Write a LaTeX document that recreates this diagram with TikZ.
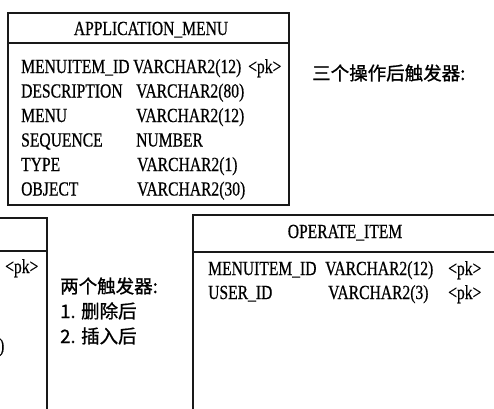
\documentclass[tikz,border=0pt]{standalone}
\usepackage{fontspec}
\setmainfont{Liberation Serif}[FakeStretch=0.78,FakeBold=0.6]
\newfontfamily\cjk{Noto Sans CJK SC}[FakeBold=1]
\begin{document}
\begin{tikzpicture}[x=1pt,y=-1pt,
  tbl/.style={line width=1.8pt,draw=black!90},
  txt/.style={anchor=base west,inner sep=0pt,font=\fontsize{20}{24}\selectfont},
  hdr/.style={anchor=base,inner sep=0pt,font=\fontsize{20}{24}\selectfont},
  cn/.style={anchor=base west,inner sep=0pt,font=\cjk\fontsize{18.5}{22}\selectfont}]
\useasboundingbox (0,0) rectangle (494,408);
\clip (0,0) rectangle (494,408);
% top table
\draw[tbl] (8,13) rectangle (289,205);
\draw[tbl] (8,43) -- (289,43);
\node[hdr] (h1) at (151,35) {APPLICATION\_MENU};
\node[txt] (a1) at (21,73) {MENUITEM\_ID};
\node[txt] (a2) at (21,97.5) {DESCRIPTION};
\node[txt] (a3) at (21,122) {MENU};
\node[txt] (a4) at (21,146.5) {SEQUENCE};
\node[txt] (a5) at (21,171) {TYPE};
\node[txt] (a6) at (21,195.5) {OBJECT};
\node[txt] (b1) at (133,73) {VARCHAR2(12)};
\node[txt] (b2) at (136,97.5) {VARCHAR2(80)};
\node[txt] (b3) at (136,122) {VARCHAR2(12)};
\node[txt] (b4) at (136,146.5) {NUMBER};
\node[txt] (b5) at (137,171) {VARCHAR2(1)};
\node[txt] (b6) at (137,195.5) {VARCHAR2(30)};
\node[txt] (p0) at (248,73) {<pk>};
\node[cn] (t3) at (312,80) {三个操作后触发器:};
% left partial table
\draw[tbl] (-10,218) -- (47,218) -- (47,420);
\draw[tbl] (-10,251) -- (47,251);
\node[txt] (lp) at (5,273) {<pk>};
\node[txt] (lq) at (-1,352) {)};
% middle text
\node[cn] (m1) at (60,293) {两个触发器:};
\node[cn] (m2) at (60,318) {1. 删除后};
\node[cn] (m3) at (60,343) {2. 插入后};
% right table
\draw[tbl] (193,420) -- (193,215) -- (510,215);
\draw[tbl] (193,252) -- (510,252);
\node[hdr] (h2) at (345,238) {OPERATE\_ITEM};
\node[txt] (c1) at (208,275) {MENUITEM\_ID};
\node[txt] (c2) at (208,299) {USER\_ID};
\node[txt] (d1) at (325,275) {VARCHAR2(12)};
\node[txt] (d2) at (328,299) {VARCHAR2(3)};
\node[txt] (e1) at (448,275) {<pk>};
\node[txt] (e2) at (448,299) {<pk>};
\end{tikzpicture}
\end{document}
